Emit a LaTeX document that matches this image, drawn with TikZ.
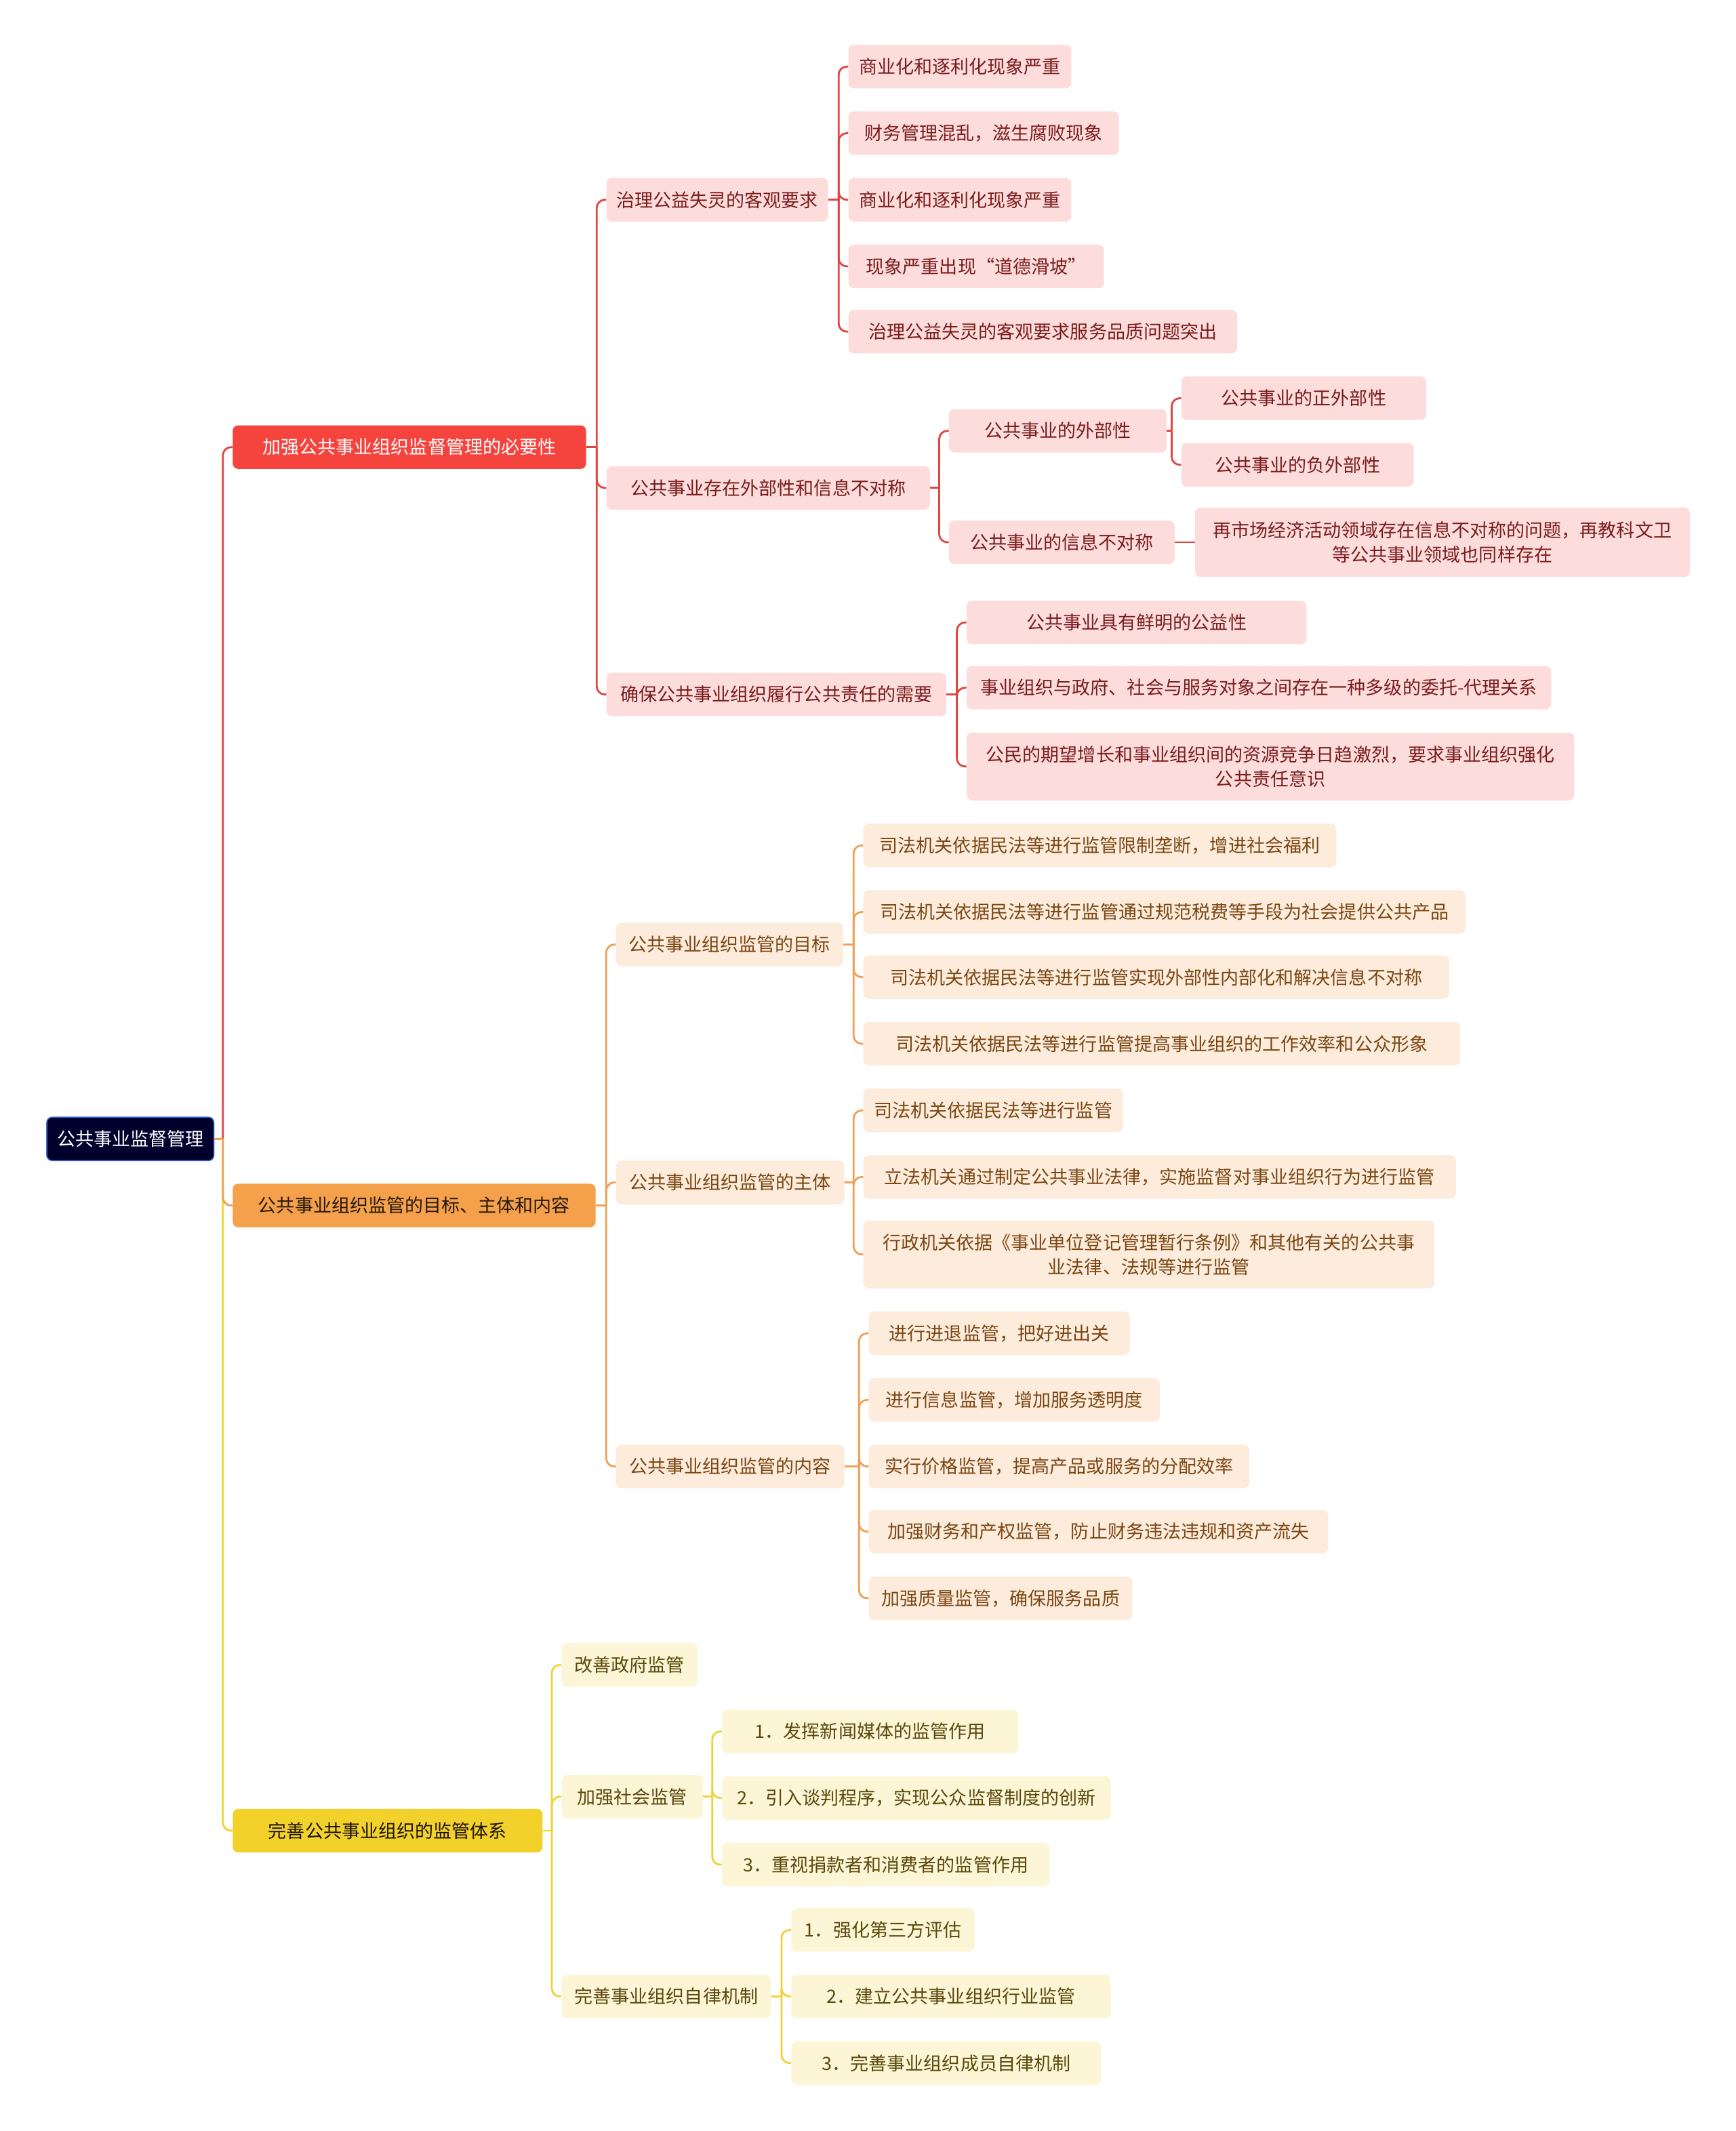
\documentclass[tikz,border=0pt]{standalone}
\usepackage{fontspec}
\newfontfamily\cjk{Noto Sans CJK SC}
\usetikzlibrary{calc}
\definecolor{rootc}{HTML}{00002C}
\definecolor{rootb}{HTML}{3C6FD6}
\definecolor{redc}{HTML}{F5433E}
\definecolor{redl}{HTML}{DE4641}
\definecolor{pinkc}{HTML}{FDDCDC}
\definecolor{pinkt}{HTML}{7A1C1C}
\definecolor{orac}{HTML}{F5A04B}
\definecolor{oral}{HTML}{EFA055}
\definecolor{peachc}{HTML}{FDEBDC}
\definecolor{peacht}{HTML}{7A4712}
\definecolor{yelc}{HTML}{F2D22A}
\definecolor{yell}{HTML}{F0D236}
\definecolor{lyelc}{HTML}{FDF6D6}
\definecolor{lyelt}{HTML}{5A480C}
\newcommand\mmlink[3]{%
  \draw[#1] (#2.east) -- ($(#2.east -| #3.west)+(-7,0)$);
  \draw[#1, rounded corners=6pt] ($(#2.east -| #3.west)+(-7,0)$) |- (#3.west);
}
\begin{document}
\begin{tikzpicture}[x=1pt,y=-1pt,
  box/.style={anchor=west, rounded corners=4pt, minimum height=32pt, inner xsep=3pt, inner ysep=2pt,
    align=center, font=\cjk\fontsize{13.5}{18}\selectfont},
  rootn/.style={box, fill=rootc, draw=rootb, line width=0.8pt, text=white},
  reda/.style={box, fill=redc, text=white},
  pinkn/.style={box, fill=pinkc, text=pinkt},
  orab/.style={box, fill=orac, text=black!80!brown},
  peachn/.style={box, fill=peachc, text=peacht},
  yelc1/.style={box, fill=yelc, text=black!85!brown},
  lyeln/.style={box, fill=lyelc, text=lyelt},
  rl/.style={redl, line width=1.4pt},
  ol/.style={oral, line width=1.4pt},
  yl/.style={yell, line width=1.4pt}
]
\useasboundingbox[fill=white] (0,0) rectangle (1277,1568);

% root
\node[rootn, minimum width=123] (root) at (34,838) {公共事业监督管理};

% level 1
\node[reda, minimum width=260] (A) at (171,329) {加强公共事业组织监督管理的必要性};
\node[orab, minimum width=267] (B) at (171,887) {公共事业组织监管的目标、主体和内容};
\node[yelc1, minimum width=228] (C) at (171,1347) {完善公共事业组织的监管体系};

% red branch
\node[pinkn, minimum width=163] (A1) at (446,147) {治理公益失灵的客观要求};
\node[pinkn, minimum width=238] (A2) at (446,359) {公共事业存在外部性和信息不对称};
\node[pinkn, minimum width=250] (A3) at (446,511) {确保公共事业组织履行公共责任的需要};

\node[pinkn, minimum width=164] (A11) at (624,49) {商业化和逐利化现象严重};
\node[pinkn, minimum width=199] (A12) at (624,98) {财务管理混乱，滋生腐败现象};
\node[pinkn, minimum width=164] (A13) at (624,147) {商业化和逐利化现象严重};
\node[pinkn, minimum width=188] (A14) at (624,196) {现象严重出现“道德滑坡”};
\node[pinkn, minimum width=286] (A15) at (624,244) {治理公益失灵的客观要求服务品质问题突出};

\node[pinkn, minimum width=160] (A21) at (698,317) {公共事业的外部性};
\node[pinkn, minimum width=166] (A22) at (698,399) {公共事业的信息不对称};
\node[pinkn, minimum width=180] (A211) at (869,293) {公共事业的正外部性};
\node[pinkn, minimum width=171] (A212) at (869,342) {公共事业的负外部性};
\node[pinkn, minimum width=364, minimum height=51pt] (A221) at (879,399) {再市场经济活动领域存在信息不对称的问题，再教科文卫\\等公共事业领域也同样存在};

\node[pinkn, minimum width=250] (A31) at (711,458) {公共事业具有鲜明的公益性};
\node[pinkn, minimum width=430] (A32) at (711,506) {事业组织与政府、社会与服务对象之间存在一种多级的委托-代理关系};
\node[pinkn, minimum width=447, minimum height=50pt] (A33) at (711,564) {公民的期望增长和事业组织间的资源竞争日趋激烈，要求事业组织强化\\公共责任意识};

% orange branch
\node[peachn, minimum width=167] (B1) at (453,695) {公共事业组织监管的目标};
\node[peachn, minimum width=168] (B2) at (453,870) {公共事业组织监管的主体};
\node[peachn, minimum width=168] (B3) at (453,1079) {公共事业组织监管的内容};

\node[peachn, minimum width=348] (B11) at (635,622) {司法机关依据民法等进行监管限制垄断，增进社会福利};
\node[peachn, minimum width=443] (B12) at (635,671) {司法机关依据民法等进行监管通过规范税费等手段为社会提供公共产品};
\node[peachn, minimum width=431] (B13) at (635,719) {司法机关依据民法等进行监管实现外部性内部化和解决信息不对称};
\node[peachn, minimum width=439] (B14) at (635,768) {司法机关依据民法等进行监管提高事业组织的工作效率和公众形象};

\node[peachn, minimum width=191] (B21) at (635,817) {司法机关依据民法等进行监管};
\node[peachn, minimum width=436] (B22) at (635,866) {立法机关通过制定公共事业法律，实施监督对事业组织行为进行监管};
\node[peachn, minimum width=420, minimum height=50pt] (B23) at (635,923) {行政机关依据《事业单位登记管理暂行条例》和其他有关的公共事\\业法律、法规等进行监管};

\node[peachn, minimum width=192] (B31) at (639,981) {进行进退监管，把好进出关};
\node[peachn, minimum width=214] (B32) at (639,1030) {进行信息监管，增加服务透明度};
\node[peachn, minimum width=280] (B33) at (639,1079) {实行价格监管，提高产品或服务的分配效率};
\node[peachn, minimum width=338] (B34) at (639,1127) {加强财务和产权监管，防止财务违法违规和资产流失};
\node[peachn, minimum width=194] (B35) at (639,1176) {加强质量监管，确保服务品质};

% yellow branch
\node[lyeln, minimum width=100] (C1) at (413,1225) {改善政府监管};
\node[lyeln, minimum width=104] (C2) at (413,1322) {加强社会监管};
\node[lyeln, minimum width=154] (C3) at (413,1469) {完善事业组织自律机制};

\node[lyeln, minimum width=218] (C21) at (531,1274) {1．发挥新闻媒体的监管作用};
\node[lyeln, minimum width=286] (C22) at (531,1323) {2．引入谈判程序，实现公众监督制度的创新};
\node[lyeln, minimum width=241] (C23) at (531,1372) {3．重视捐款者和消费者的监管作用};

\node[lyeln, minimum width=135] (C31) at (582,1420) {1．强化第三方评估};
\node[lyeln, minimum width=235] (C32) at (582,1469) {2．建立公共事业组织行业监管};
\node[lyeln, minimum width=228] (C33) at (582,1518) {3．完善事业组织成员自律机制};

% connectors
\mmlink{rl}{root}{A}
\mmlink{yl}{root}{C}
\mmlink{ol}{root}{B}

\foreach \c in {A1,A2,A3} {\mmlink{rl}{A}{\c}}
\foreach \c in {A11,A12,A13,A14,A15} {\mmlink{rl}{A1}{\c}}
\foreach \c in {A21,A22} {\mmlink{rl}{A2}{\c}}
\foreach \c in {A211,A212} {\mmlink{rl}{A21}{\c}}
\draw[rl] (A22.east) -- (A22.east -| A221.west);
\foreach \c in {A31,A32,A33} {\mmlink{rl}{A3}{\c}}

\foreach \c in {B1,B2,B3} {\mmlink{ol}{B}{\c}}
\foreach \c in {B11,B12,B13,B14} {\mmlink{ol}{B1}{\c}}
\foreach \c in {B21,B22,B23} {\mmlink{ol}{B2}{\c}}
\foreach \c in {B31,B32,B33,B34,B35} {\mmlink{ol}{B3}{\c}}

\foreach \c in {C1,C2,C3} {\mmlink{yl}{C}{\c}}
\foreach \c in {C21,C22,C23} {\mmlink{yl}{C2}{\c}}
\foreach \c in {C31,C32,C33} {\mmlink{yl}{C3}{\c}}
\end{tikzpicture}
\end{document}
